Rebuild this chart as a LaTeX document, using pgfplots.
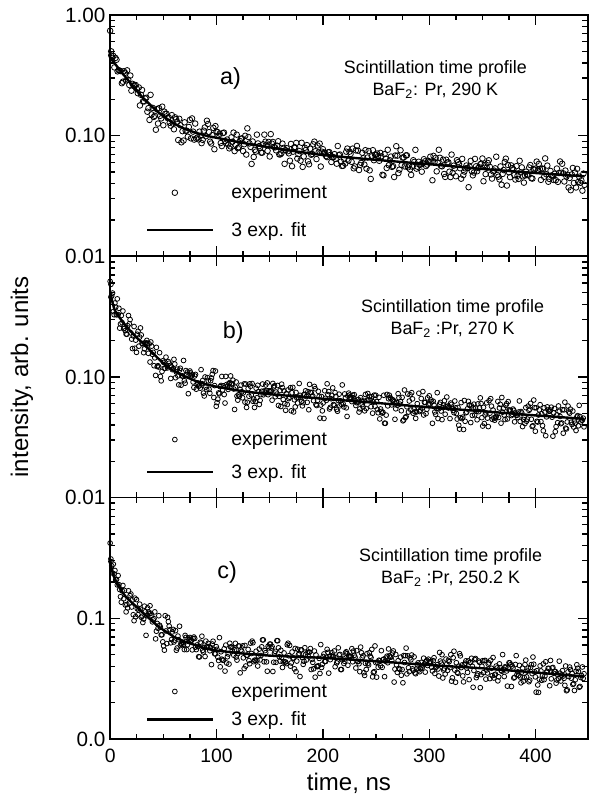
\documentclass[border=0pt]{standalone}
\usepackage{fontspec}
\setmainfont{Liberation Sans}
\usepackage{pgfplots}
\pgfplotsset{compat=1.18}
\pgfplotsset{
  mypanel/.style={
    scale only axis, width=357.75pt, height=180.75pt,
    xmin=0, xmax=449, ymin=0.01, ymax=1,
    axis line style={line width=1.3pt},
    xtick={0,100,200,300,400}, minor x tick num=3,
    ytick={0.01,0.1,1},
    tick align=inside, tick pos=both,
    major tick length=7.5pt, minor tick length=4pt,
    every tick/.style={black, line width=1pt},
    xticklabel style={font=\fontsize{14.5}{17}\selectfont, yshift=-4pt},
    yticklabel style={font=\fontsize{15.5}{18}\selectfont},
    /pgf/number format/assume math mode=true,
    legend cell align=left,
  },
  myexp/.style={only marks, mark=o, mark size=#1, mark options={line width=0.6pt, black},
    legend image code/.code={\draw[mark repeat=2,mark phase=2,##1] plot coordinates {(0pt,0pt) (20.5pt,0pt) (49pt,0pt)};}},
  myfit/.style={black, line width=1.8pt, no marks,
    legend image code/.code={\draw[##1, line width=1.6pt] (0pt,0pt) -- (49pt,0pt);}},
  myleg/.style 2 args={legend style={draw=none, fill=none, at={(axis description cs:0.067,#1)}, anchor=north west,
    font=\fontsize{14.5}{17}\selectfont, row sep=#2}},
}
\tikzset{
  mytxt/.style={font=\fontsize{13.4}{16.5}\selectfont, align=center},
  mylab/.style={font=\fontsize{17.5}{20}\selectfont},
}
\newcommand{\minorlogticks}{%
  \pgfplotsinvokeforeach{0.02,0.03,0.04,0.05,0.06,0.07,0.08,0.09,0.2,0.3,0.4,0.5,0.6,0.7,0.8,0.9}{%
    \draw[line width=1pt] (axis cs:0,##1) -- ++(4pt,0pt);
    \draw[line width=1pt] (axis cs:449,##1) -- ++(-3.5pt,0pt);
  }}
\begin{document}
\begin{tikzpicture}
\useasboundingbox (-82.5pt,-47.25pt) rectangle (359.25pt,553.5pt);
% ---------------- panel a ----------------
\begin{axis}[ymode=log, mypanel, at={(0,361.5pt)}, anchor=south west,
  xticklabels={}, yticklabels={0.01,0.10,1.00}, myleg={0.32}{12pt}]
\addplot[myexp=2.1pt] coordinates {
(0,0.74)(1,0.50)(2,0.441)(4,0.368)(6,0.426)(8,0.349)(10,0.343)(12,0.280)(14,0.332)(16,0.348)(18,0.263)(20,0.236)(22,0.261)(24,0.263)(26,0.225)(28,0.178)(30,0.239)(32,0.192)(34,0.206)(36,0.169)(38,0.218)(40,0.170)(42,0.146)(44,0.166)(46,0.169)(48,0.139)(50,0.122)(52,0.152)(54,0.140)(56,0.128)(58,0.148)(60,0.113)(62,0.137)(64,0.092)(66,0.122)(68,0.109)(70,0.129)(72,0.110)(74,0.118)(76,0.095)(78,0.108)(80,0.126)(82,0.0966)(84,0.108)(86,0.0867)(88,0.110)(90,0.099)(92,0.125)(94,0.0892)(96,0.101)(98,0.0772)(100,0.108)
(102,0.100)(104,0.0869)(106,0.105)(108,0.0903)(110,0.0929)(112,0.0785)(114,0.0969)(116,0.106)(118,0.0838)(120,0.0788)(122,0.0904)(124,0.0950)(126,0.0849)(128,0.0697)(130,0.0975)(132,0.0807)(134,0.0895)(136,0.0763)(138,0.102)(140,0.0819)(142,0.0723)(144,0.0849)(146,0.0892)(148,0.0749)(150,0.0672)(152,0.0860)(154,0.0807)(156,0.0756)(158,0.0899)(160,0.0700)(162,0.0859)(164,0.0584)(166,0.0788)(168,0.0714)(170,0.0854)(172,0.0737)(174,0.0799)(176,0.0646)(178,0.0745)(180,0.0873)(182,0.0672)(184,0.0761)(186,0.0613)(188,0.0780)(190,0.0705)(192,0.0892)(194,0.0640)(196,0.0727)(198,0.0555)(200,0.0773)
(202,0.0722)(204,0.0664)(206,0.0731)(208,0.0605)(210,0.0664)(212,0.0642)(214,0.0821)(216,0.0698)(218,0.0561)(220,0.0639)(222,0.0737)(224,0.0621)(226,0.0705)(228,0.0781)(230,0.0556)(232,0.0822)(234,0.0519)(236,0.0595)(238,0.0650)(240,0.0758)(242,0.0659)(244,0.0516)(246,0.0673)(248,0.0626)(250,0.0693)(252,0.0678)(254,0.0720)(256,0.0474)(258,0.0703)(260,0.0539)(262,0.0569)(264,0.0671)(266,0.0559)(268,0.0685)(270,0.0683)(272,0.0523)(274,0.0570)(276,0.0658)(278,0.0686)(280,0.0546)(282,0.0526)(284,0.0554)(286,0.0606)(288,0.0533)(290,0.0608)(292,0.0576)(294,0.0592)(296,0.0613)(298,0.0576)(300,0.0603)
(302,0.0607)(304,0.0680)(306,0.0654)(308,0.0595)(310,0.0656)(312,0.0557)(314,0.0481)(316,0.0632)(318,0.0601)(320,0.0454)(322,0.0491)(324,0.0534)(326,0.0626)(328,0.0580)(330,0.0440)(332,0.0471)(334,0.0535)(336,0.0539)(338,0.0553)(340,0.0508)(342,0.0495)(344,0.0557)(346,0.0539)(348,0.0580)(350,0.0647)(352,0.0571)(354,0.0543)(356,0.0625)(358,0.0477)(360,0.0506)(362,0.0536)(364,0.0472)(366,0.0434)(368,0.0392)(370,0.0519)(372,0.0645)(374,0.0572)(376,0.0453)(378,0.0538)(380,0.0471)(382,0.0559)(384,0.0438)(386,0.0496)(388,0.0460)(390,0.0468)(392,0.0471)(394,0.0545)(396,0.0444)(398,0.0526)(400,0.0534)
(402,0.0513)(404,0.0531)(406,0.0535)(408,0.0456)(410,0.0479)(412,0.0415)(414,0.0510)(416,0.0461)(418,0.0483)(420,0.0534)(422,0.0490)(424,0.0493)(426,0.0487)(428,0.0514)(430,0.0475)(432,0.0446)(434,0.0477)(436,0.0405)(438,0.0372)(440,0.0413)(442,0.0407)(444,0.0350)(446,0.0391)
(1,0.463)(3,0.458)(5,0.441)(7,0.341)(9,0.345)(11,0.272)(13,0.342)(15,0.287)(17,0.291)(19,0.315)(21,0.269)(23,0.260)(25,0.245)(27,0.251)(29,0.218)(31,0.193)(33,0.203)(35,0.158)(37,0.135)(39,0.150)(41,0.143)(43,0.112)(45,0.126)(47,0.146)(49,0.174)(51,0.158)(53,0.152)(55,0.142)(57,0.121)(59,0.126)(61,0.142)(63,0.130)(65,0.138)(67,0.0881)(69,0.0911)(71,0.110)(73,0.0980)(75,0.135)(77,0.139)(79,0.0927)(81,0.0945)(83,0.0932)(85,0.0998)(87,0.0923)(89,0.117)(91,0.133)(93,0.107)(95,0.0861)(97,0.116)(99,0.120)
(101,0.107)(103,0.104)(105,0.0820)(107,0.106)(109,0.0866)(111,0.0845)(113,0.0815)(115,0.0891)(117,0.0745)(119,0.102)(121,0.0802)(123,0.0943)(125,0.0745)(127,0.0998)(129,0.115)(131,0.0863)(133,0.0583)(135,0.0666)(137,0.0738)(139,0.0862)(141,0.0793)(143,0.0723)(145,0.102)(147,0.0840)(149,0.0887)(151,0.103)(153,0.0887)(155,0.0799)(157,0.0826)(159,0.0699)(161,0.0715)(163,0.0792)(165,0.0757)(167,0.0743)(169,0.0620)(171,0.0558)(173,0.0799)(175,0.0871)(177,0.0702)(179,0.0621)(181,0.0551)(183,0.0794)(185,0.0836)(187,0.0579)(189,0.0695)(191,0.0848)(193,0.0743)(195,0.0829)(197,0.0860)(199,0.0737)
(201,0.0725)(203,0.0677)(205,0.0728)(207,0.0691)(209,0.0661)(211,0.0703)(213,0.0586)(215,0.0689)(217,0.0609)(219,0.0563)(221,0.0587)(223,0.0782)(225,0.0737)(227,0.0607)(229,0.0536)(231,0.0755)(233,0.0751)(235,0.0572)(237,0.0722)(239,0.0576)(241,0.0533)(243,0.0746)(245,0.0438)(247,0.0758)(249,0.0697)(251,0.0711)(253,0.0619)(255,0.0674)(257,0.0469)(259,0.0645)(261,0.0764)(263,0.0625)(265,0.0551)(267,0.0454)(269,0.0818)(271,0.0490)(273,0.0757)(275,0.0660)(277,0.0556)(279,0.0687)(281,0.0568)(283,0.0473)(285,0.0626)(287,0.0763)(289,0.0553)(291,0.0574)(293,0.0503)(295,0.0638)(297,0.0560)(299,0.0619)
(301,0.0669)(303,0.0427)(305,0.0605)(307,0.0506)(309,0.0764)(311,0.0562)(313,0.0633)(315,0.0455)(317,0.0600)(319,0.0503)(321,0.0697)(323,0.0564)(325,0.0461)(327,0.0603)(329,0.0537)(331,0.0642)(333,0.0504)(335,0.0566)(337,0.0374)(339,0.0618)(341,0.0469)(343,0.0642)(345,0.0507)(347,0.0547)(349,0.0586)(351,0.0419)(353,0.0480)(355,0.0594)(357,0.0551)(359,0.0441)(361,0.0514)(363,0.0669)(365,0.0457)(367,0.0556)(369,0.0482)(371,0.0606)(373,0.0386)(375,0.0497)(377,0.0567)(379,0.0527)(381,0.0433)(383,0.0465)(385,0.0619)(387,0.0546)(389,0.0408)(391,0.0503)(393,0.0477)(395,0.0571)(397,0.0441)(399,0.0523)
(401,0.0610)(403,0.0583)(405,0.0430)(407,0.0529)(409,0.0648)(411,0.0565)(413,0.0438)(415,0.0468)(417,0.0429)(419,0.0428)(421,0.0414)(423,0.0611)(425,0.0585)(427,0.0417)(429,0.0459)(431,0.0372)(433,0.0353)(435,0.0540)(437,0.0496)(439,0.0531)(441,0.0457)(443,0.0426)(445,0.0485)
};
\addlegendentry{\hspace{11pt}experiment}
\addplot[myfit] coordinates {
(0,0.45)(2,0.42)(4,0.40)(6,0.38)(8,0.36)(10,0.34)(14,0.31)(18,0.28)(22,0.253)(26,0.23)(30,0.21)(35,0.19)(40,0.172)(45,0.157)(50,0.145)(55,0.135)(60,0.126)(70,0.114)(80,0.106)(90,0.1)(100,0.096)(125,0.087)(150,0.08)(175,0.074)(200,0.069)(250,0.063)(300,0.058)(350,0.053)(400,0.049)(446,0.046)
};
\addlegendentry{\hspace{11pt}3 exp. fit}
\minorlogticks
\node[mylab] at (rel axis cs:0.252,0.739) {a)};
\node[mytxt] at (rel axis cs:0.681,0.734) {Scintillation time profile\\BaF\textsubscript{2}: Pr, 290 K};
\end{axis}
% ---------------- panel b ----------------
\begin{axis}[ymode=log, mypanel, at={(0,180.75pt)}, anchor=south west,
  xticklabels={}, yticklabels={0.01,0.10,{}}, myleg={0.297}{8.5pt},
  ylabel={intensity, arb. units},
  ylabel style={font=\fontsize{18}{21}\selectfont, at={(axis description cs:-0.1845,0.5)}, anchor=center}]
\addplot[myexp=1.8pt] coordinates {
(0,0.62)(0.7,0.46)(1.5,0.469)(3,0.349)(4.5,0.410)(6,0.327)(7.5,0.329)(9,0.254)(10.5,0.323)(12,0.352)(13.5,0.254)(15,0.227)(16.5,0.266)(18,0.276)(19.5,0.232)(21,0.172)(22.5,0.262)(24,0.202)(25.5,0.226)(27,0.180)(28.5,0.255)(30,0.190)(31.5,0.159)(33,0.193)(34.5,0.201)(36,0.157)(37.5,0.133)(39,0.180)(40.5,0.160)(42,0.144)(43.5,0.176)(45,0.124)(46.5,0.159)(48,0.0929)(49.5,0.136)(51,0.118)(52.5,0.146)(54,0.119)(55.5,0.130)(57,0.0972)(58.5,0.115)(60,0.140)(61.5,0.0986)(63,0.116)(64.5,0.0861)(66,0.118)(67.5,0.102)(69,0.137)(70.5,0.0888)(72,0.105)(73.5,0.0727)(75,0.112)
(76.5,0.102)(78,0.0909)(79.5,0.102)(81,0.0792)(82.5,0.0891)(84,0.0847)(85.5,0.115)(87,0.0934)(88.5,0.0696)(90,0.0825)(91.5,0.0988)(93,0.0791)(94.5,0.0930)(96,0.105)(97.5,0.0676)(99,0.112)(100.5,0.0613)(102,0.0738)(103.5,0.0831)(105,0.101)(106.5,0.0844)(108,0.0608)(109.5,0.0866)(111,0.0789)(112.5,0.0898)(114,0.0873)(115.5,0.0940)(117,0.0538)(118.5,0.0909)(120,0.0643)(121.5,0.0690)(123,0.0856)(124.5,0.0672)(126,0.0876)(127.5,0.0874)(129,0.0617)(130.5,0.0692)(132,0.0837)(133.5,0.0882)(135,0.0657)(136.5,0.0626)(138,0.0672)(139.5,0.0756)(141,0.0639)(142.5,0.0761)(144,0.0711)(145.5,0.0736)(147,0.0772)(148.5,0.0713)(150,0.0757)
(151.5,0.0765)(153,0.0884)(154.5,0.0845)(156,0.0750)(157.5,0.0850)(159,0.0691)(160.5,0.0569)(162,0.0816)(163.5,0.0768)(165,0.0529)(166.5,0.0591)(168,0.0662)(169.5,0.0815)(171,0.0740)(172.5,0.0513)(174,0.0565)(175.5,0.0671)(177,0.0679)(178.5,0.0704)(180,0.0631)(181.5,0.0611)(183,0.0715)(184.5,0.0688)(186,0.0756)(187.5,0.0868)(189,0.0743)(190.5,0.0697)(192,0.0835)(193.5,0.0590)(195,0.0640)(196.5,0.0690)(198,0.0585)(199.5,0.0524)(201,0.0453)(202.5,0.0666)(204,0.0878)(205.5,0.0757)(207,0.0560)(208.5,0.0703)(210,0.0591)(211.5,0.0742)(213,0.0538)(214.5,0.0638)(216,0.0577)(217.5,0.0593)(219,0.0599)(220.5,0.0723)(222,0.0555)(223.5,0.0695)(225,0.0709)
(226.5,0.0675)(228,0.0706)(229.5,0.0713)(231,0.0580)(232.5,0.0620)(234,0.0512)(235.5,0.0674)(237,0.0591)(238.5,0.0630)(240,0.0717)(241.5,0.0643)(243,0.0649)(244.5,0.0640)(246,0.0686)(247.5,0.0621)(249,0.0571)(250.5,0.0625)(252,0.0505)(253.5,0.0449)(255,0.0518)(256.5,0.0509)(258,0.0414)(259.5,0.0483)(261,0.0576)(262.5,0.0706)(264,0.0658)(265.5,0.0649)(267,0.0624)(268.5,0.0545)(270,0.0582)(271.5,0.0673)(273,0.0625)(274.5,0.0677)(276,0.0440)(277.5,0.0461)(279,0.0566)(280.5,0.0512)(282,0.0713)(283.5,0.0741)(285,0.0500)(286.5,0.0514)(288,0.0513)(289.5,0.0556)(291,0.0517)(292.5,0.0663)(294,0.0757)(295.5,0.0616)(297,0.0497)(298.5,0.0671)(300,0.0698)
(301.5,0.0646)(303,0.0413)(304.5,0.0585)(306,0.0490)(307.5,0.0741)(309,0.0546)(310.5,0.0616)(312,0.0443)(313.5,0.0585)(315,0.0491)(316.5,0.0682)(318,0.0553)(319.5,0.0452)(321,0.0593)(322.5,0.0528)(324,0.0632)(325.5,0.0498)(327,0.0559)(328.5,0.0370)(330,0.0613)(331.5,0.0465)(333,0.0638)(334.5,0.0505)(336,0.0545)(337.5,0.0585)(339,0.0419)(340.5,0.0480)(342,0.0595)(343.5,0.0553)(345,0.0442)(346.5,0.0516)(348,0.0671)(349.5,0.0460)(351,0.0560)(352.5,0.0484)(354,0.0611)(355.5,0.0388)(357,0.0501)(358.5,0.0573)(360,0.0532)(361.5,0.0438)(363,0.0470)(364.5,0.0627)(366,0.0553)(367.5,0.0414)(369,0.0511)(370.5,0.0484)(372,0.0581)(373.5,0.0449)(375,0.0533)
(376.5,0.0525)(378,0.0491)(379.5,0.0529)(381,0.0502)(382.5,0.0481)(384,0.0512)(385.5,0.0428)(387,0.0503)(388.5,0.0445)(390,0.0412)(391.5,0.0430)(393,0.0574)(394.5,0.0541)(396,0.0446)(397.5,0.0394)(399,0.0556)(400.5,0.0555)(402,0.0423)(403.5,0.0534)(405,0.0427)(406.5,0.0395)(408,0.0555)(409.5,0.0326)(411,0.0565)(412.5,0.0521)(414,0.0532)(415.5,0.0464)(417,0.0505)(418.5,0.0352)(420,0.0485)(421.5,0.0575)(423,0.0471)(424.5,0.0416)(426,0.0342)(427.5,0.0618)(429,0.0371)(430.5,0.0574)(432,0.0501)(433.5,0.0422)(435,0.0522)(436.5,0.0432)(438,0.0360)(439.5,0.0478)(441,0.0582)(442.5,0.0423)(444,0.0439)(445.5,0.0386)
(0.75,0.586)(2.25,0.496)(3.75,0.328)(5.25,0.379)(6.75,0.444)(8.25,0.371)(9.75,0.275)(11.25,0.282)(12.75,0.251)(14.25,0.242)(15.75,0.226)(17.25,0.323)(18.75,0.299)(20.25,0.206)(21.75,0.219)(23.25,0.173)(24.75,0.160)(26.25,0.239)(27.75,0.214)(29.25,0.223)(30.75,0.188)(32.25,0.171)(33.75,0.189)(35.25,0.191)(36.75,0.188)(38.25,0.195)(39.75,0.154)(41.25,0.124)(42.75,0.103)(44.25,0.122)(45.75,0.121)(47.25,0.101)(48.75,0.111)(50.25,0.132)(51.75,0.118)(53.25,0.125)(54.75,0.134)(56.25,0.123)(57.75,0.121)(59.25,0.117)(60.75,0.128)(62.25,0.110)(63.75,0.102)(65.25,0.114)(66.75,0.0855)(68.25,0.102)(69.75,0.0931)(71.25,0.113)(72.75,0.110)(74.25,0.104)
(75.75,0.108)(77.25,0.104)(78.75,0.0818)(80.25,0.105)(81.75,0.0860)(83.25,0.0840)(84.75,0.0808)(86.25,0.0881)(87.75,0.0735)(89.25,0.100)(90.75,0.0788)(92.25,0.0928)(93.75,0.0733)(95.25,0.0981)(96.75,0.113)(98.25,0.0848)(99.75,0.0572)(101.25,0.0655)(102.75,0.0726)(104.25,0.0850)(105.75,0.0782)(107.25,0.0715)(108.75,0.101)(110.25,0.0832)(111.75,0.0880)(113.25,0.102)(114.75,0.0881)(116.25,0.0795)(117.75,0.0821)(119.25,0.0695)(120.75,0.0712)(122.25,0.0788)(123.75,0.0754)(125.25,0.0740)(126.75,0.0619)(128.25,0.0559)(129.75,0.0801)(131.25,0.0877)(132.75,0.0709)(134.25,0.0629)(135.75,0.0559)(137.25,0.0807)(138.75,0.0853)(140.25,0.0592)(141.75,0.0714)(143.25,0.0874)(144.75,0.0766)(146.25,0.0858)(147.75,0.0893)(149.25,0.0768)
(150.75,0.0766)(152.25,0.0642)(153.75,0.0828)(155.25,0.0686)(156.75,0.0721)(158.25,0.0581)(159.75,0.0772)(161.25,0.0872)(162.75,0.0650)(164.25,0.0602)(165.75,0.0728)(167.25,0.0781)(168.75,0.0680)(170.25,0.0524)(171.75,0.0820)(173.25,0.0647)(174.75,0.0744)(176.25,0.0608)(177.75,0.0883)(179.25,0.0676)(180.75,0.0576)(182.25,0.0716)(183.75,0.0768)(185.25,0.0616)(186.75,0.0535)(188.25,0.0744)(189.75,0.0689)(191.25,0.0636)(192.75,0.0799)(194.25,0.0580)(195.75,0.0760)(197.25,0.0456)(198.75,0.0688)(200.25,0.0609)(201.75,0.0769)(203.25,0.0640)(204.75,0.0715)(206.25,0.0543)(207.75,0.0660)(209.25,0.0812)(210.75,0.0582)(212.25,0.0690)(213.75,0.0520)(215.25,0.0720)(216.75,0.0635)(218.25,0.0859)(219.75,0.0565)(221.25,0.0672)(222.75,0.0471)(224.25,0.0735)
(225.75,0.0667)(227.25,0.0625)(228.75,0.0672)(230.25,0.0638)(231.75,0.0612)(233.25,0.0651)(234.75,0.0544)(236.25,0.0640)(237.75,0.0565)(239.25,0.0524)(240.75,0.0547)(242.25,0.0730)(243.75,0.0688)(245.25,0.0567)(246.75,0.0501)(248.25,0.0707)(249.75,0.0705)(251.25,0.0538)(252.75,0.0678)(254.25,0.0543)(255.75,0.0502)(257.25,0.0705)(258.75,0.0413)(260.25,0.0717)(261.75,0.0660)(263.25,0.0675)(264.75,0.0587)(266.25,0.0640)(267.75,0.0446)(269.25,0.0614)(270.75,0.0727)(272.25,0.0596)(273.75,0.0525)(275.25,0.0433)(276.75,0.0780)(278.25,0.0469)(279.75,0.0723)(281.25,0.0632)(282.75,0.0532)(284.25,0.0658)(285.75,0.0544)(287.25,0.0454)(288.75,0.0601)(290.25,0.0733)(291.75,0.0531)(293.25,0.0552)(294.75,0.0484)(296.25,0.0615)(297.75,0.0540)(299.25,0.0597)
(300.75,0.0595)(302.25,0.0623)(303.75,0.0629)(305.25,0.0513)(306.75,0.0548)(308.25,0.0452)(309.75,0.0595)(311.25,0.0522)(312.75,0.0557)(314.25,0.0635)(315.75,0.0568)(317.25,0.0574)(318.75,0.0566)(320.25,0.0608)(321.75,0.0550)(323.25,0.0506)(324.75,0.0554)(326.25,0.0448)(327.75,0.0398)(329.25,0.0460)(330.75,0.0452)(332.25,0.0367)(333.75,0.0429)(335.25,0.0511)(336.75,0.0628)(338.25,0.0584)(339.75,0.0576)(341.25,0.0554)(342.75,0.0485)(344.25,0.0518)(345.75,0.0598)(347.25,0.0556)(348.75,0.0602)(350.25,0.0392)(351.75,0.0411)(353.25,0.0504)(354.75,0.0456)(356.25,0.0636)(357.75,0.0661)(359.25,0.0446)(360.75,0.0458)(362.25,0.0457)(363.75,0.0496)(365.25,0.0462)(366.75,0.0593)(368.25,0.0676)(369.75,0.0550)(371.25,0.0444)(372.75,0.0600)(374.25,0.0625)
(375.75,0.0531)(377.25,0.0479)(378.75,0.0542)(380.25,0.0425)(381.75,0.0482)(383.25,0.0461)(384.75,0.0633)(386.25,0.0517)(387.75,0.0388)(389.25,0.0464)(390.75,0.0557)(392.25,0.0448)(393.75,0.0529)(395.25,0.0604)(396.75,0.0389)(398.25,0.0644)(399.75,0.0355)(401.25,0.0429)(402.75,0.0484)(404.25,0.0589)(405.75,0.0495)(407.25,0.0358)(408.75,0.0511)(410.25,0.0467)(411.75,0.0533)(413.25,0.0520)(414.75,0.0562)(416.25,0.0323)(417.75,0.0547)(419.25,0.0388)(420.75,0.0418)(422.25,0.0519)(423.75,0.0410)(425.25,0.0535)(426.75,0.0534)(428.25,0.0377)(429.75,0.0424)(431.25,0.0513)(432.75,0.0541)(434.25,0.0404)(435.75,0.0385)(437.25,0.0414)(438.75,0.0466)(440.25,0.0394)(441.75,0.0470)(443.25,0.0439)(444.75,0.0456)
};
\addlegendentry{\hspace{11pt}experiment}
\addplot[myfit] coordinates {
(0,0.50)(1.5,0.44)(3,0.39)(4.5,0.355)(6,0.34)(9,0.31)(12,0.285)(15,0.265)(20,0.235)(25,0.212)(30,0.193)(35,0.175)(40,0.158)(45,0.143)(50,0.130)(55,0.120)(60,0.112)(70,0.101)(80,0.093)(90,0.087)(100,0.083)(125,0.076)(150,0.072)(175,0.069)(200,0.066)(250,0.061)(300,0.056)(350,0.052)(400,0.048)(445.5,0.045)
};
\addlegendentry{\hspace{11pt}3 exp. fit}
\minorlogticks
\node[mylab] at (rel axis cs:0.258,0.685) {b)};
\node[mytxt] at (rel axis cs:0.717,0.741) {Scintillation time profile\\BaF\textsubscript{2} :Pr, 270 K};
\end{axis}
% ---------------- panel c ----------------
\begin{axis}[ymode=log, mypanel, at={(0,0pt)}, anchor=south west,
  xticklabels={0,100,200,300,400}, yticklabels={0.0,0.1,{}}, myleg={0.253}{5pt},
  xlabel={time, ns},
  xlabel style={font=\fontsize{18}{21}\selectfont, at={(axis description cs:0.5,0)}, anchor=center, yshift=-33pt}]
\addplot[myexp=1.8pt] coordinates {
(0,0.42)(0.7,0.31)(1.5,0.272)(3,0.281)(4.5,0.249)(6,0.210)(7.5,0.226)(9,0.173)(10.5,0.136)(12,0.187)(13.5,0.170)(15,0.113)(16.5,0.122)(18,0.134)(19.5,0.159)(21,0.142)(22.5,0.0955)(24,0.103)(25.5,0.120)(27,0.117)(28.5,0.119)(30,0.104)(31.5,0.0986)(33,0.113)(34.5,0.105)(36,0.113)(37.5,0.127)(39,0.106)(40.5,0.0968)(42,0.113)(43.5,0.0781)(45,0.0826)(46.5,0.0875)(48,0.0728)(49.5,0.0638)(51,0.0544)(52.5,0.0785)(54,0.102)(55.5,0.0861)(57,0.0626)(58.5,0.0771)(60,0.0636)(61.5,0.0790)(63,0.0567)(64.5,0.0664)(66,0.0595)(67.5,0.0604)(69,0.0604)(70.5,0.0721)(72,0.0550)(73.5,0.0683)(75,0.0693)
(76.5,0.0654)(78,0.0679)(79.5,0.0680)(81,0.0550)(82.5,0.0582)(84,0.0478)(85.5,0.0623)(87,0.0542)(88.5,0.0573)(90,0.0647)(91.5,0.0579)(93,0.0583)(94.5,0.0572)(96,0.0612)(97.5,0.0552)(99,0.0507)(100.5,0.0553)(102,0.0447)(103.5,0.0396)(105,0.0458)(106.5,0.0449)(108,0.0365)(109.5,0.0426)(111,0.0506)(112.5,0.0621)(114,0.0578)(115.5,0.0569)(117,0.0547)(118.5,0.0477)(120,0.0509)(121.5,0.0588)(123,0.0546)(124.5,0.0590)(126,0.0383)(127.5,0.0402)(129,0.0494)(130.5,0.0446)(132,0.0622)(133.5,0.0647)(135,0.0437)(136.5,0.0449)(138,0.0448)(139.5,0.0485)(141,0.0452)(142.5,0.0580)(144,0.0662)(145.5,0.0539)(147,0.0435)(148.5,0.0587)(150,0.0611)
(151.5,0.0566)(153,0.0362)(154.5,0.0514)(156,0.0431)(157.5,0.0652)(159,0.0480)(160.5,0.0543)(162,0.0391)(163.5,0.0516)(165,0.0434)(166.5,0.0603)(168,0.0489)(169.5,0.0401)(171,0.0525)(172.5,0.0468)(174,0.0562)(175.5,0.0442)(177,0.0498)(178.5,0.0329)(180,0.0546)(181.5,0.0415)(183,0.0570)(184.5,0.0451)(186,0.0488)(187.5,0.0524)(189,0.0376)(190.5,0.0431)(192,0.0535)(193.5,0.0497)(195,0.0398)(196.5,0.0465)(198,0.0605)(199.5,0.0415)(201,0.0506)(202.5,0.0438)(204,0.0553)(205.5,0.0351)(207,0.0454)(208.5,0.0519)(210,0.0482)(211.5,0.0397)(213,0.0426)(214.5,0.0569)(216,0.0502)(217.5,0.0376)(219,0.0465)(220.5,0.0440)(222,0.0528)(223.5,0.0408)(225,0.0485)
(226.5,0.0484)(228,0.0436)(229.5,0.0493)(231,0.0387)(232.5,0.0439)(234,0.0420)(235.5,0.0577)(237,0.0471)(238.5,0.0354)(240,0.0423)(241.5,0.0509)(243,0.0410)(244.5,0.0484)(246,0.0552)(247.5,0.0355)(249,0.0590)(250.5,0.0325)(252,0.0393)(253.5,0.0444)(255,0.0539)(256.5,0.0453)(258,0.0328)(259.5,0.0468)(261,0.0428)(262.5,0.0489)(264,0.0476)(265.5,0.0515)(267,0.0296)(268.5,0.0501)(270,0.0356)(271.5,0.0383)(273,0.0476)(274.5,0.0376)(276,0.0491)(277.5,0.0490)(279,0.0346)(280.5,0.0389)(282,0.0470)(283.5,0.0496)(285,0.0370)(286.5,0.0353)(288,0.0379)(289.5,0.0427)(291,0.0361)(292.5,0.0431)(294,0.0403)(295.5,0.0418)(297,0.0439)(298.5,0.0406)(300,0.0431)
(301.5,0.0436)(303,0.0366)(304.5,0.0471)(306,0.0391)(307.5,0.0412)(309,0.0332)(310.5,0.0442)(312,0.0499)(313.5,0.0372)(315,0.0345)(316.5,0.0417)(318,0.0448)(319.5,0.0390)(321,0.0301)(322.5,0.0471)(324,0.0372)(325.5,0.0428)(327,0.0350)(328.5,0.0509)(330,0.0390)(331.5,0.0333)(333,0.0414)(334.5,0.0444)(336,0.0356)(337.5,0.0310)(339,0.0431)(340.5,0.0400)(342,0.0369)(343.5,0.0464)(345,0.0337)(346.5,0.0442)(348,0.0266)(349.5,0.0400)(351,0.0354)(352.5,0.0448)(354,0.0373)(355.5,0.0416)(357,0.0316)(358.5,0.0385)(360,0.0473)(361.5,0.0339)(363,0.0402)(364.5,0.0303)(366,0.0419)(367.5,0.0370)(369,0.0500)(370.5,0.0329)(372,0.0391)(373.5,0.0274)(375,0.0428)
(376.5,0.0412)(378,0.0402)(379.5,0.0320)(381,0.0414)(382.5,0.0342)(384,0.0336)(385.5,0.0326)(387,0.0358)(388.5,0.0301)(390,0.0413)(391.5,0.0327)(393,0.0387)(394.5,0.0307)(396,0.0413)(397.5,0.0477)(399,0.0360)(400.5,0.0244)(402,0.0280)(403.5,0.0312)(405,0.0366)(406.5,0.0338)(408,0.0310)(409.5,0.0436)(411,0.0363)(412.5,0.0384)(414,0.0447)(415.5,0.0387)(417,0.0350)(418.5,0.0363)(420,0.0308)(421.5,0.0316)(423,0.0351)(424.5,0.0337)(426,0.0332)(427.5,0.0278)(429,0.0251)(430.5,0.0360)(432,0.0394)(433.5,0.0319)(435,0.0283)(436.5,0.0252)(438,0.0364)(439.5,0.0385)(441,0.0268)(442.5,0.0323)(444,0.0395)(445.5,0.0347)
(0.75,0.295)(2.25,0.237)(3.75,0.233)(5.25,0.208)(6.75,0.189)(8.25,0.190)(9.75,0.151)(11.25,0.169)(12.75,0.145)(14.25,0.129)(15.75,0.130)(17.25,0.169)(18.75,0.154)(20.25,0.124)(21.75,0.107)(23.25,0.147)(24.75,0.143)(26.25,0.107)(27.75,0.131)(29.25,0.102)(30.75,0.0922)(32.25,0.126)(33.75,0.0722)(35.25,0.122)(36.75,0.110)(38.25,0.110)(39.75,0.0934)(41.25,0.0992)(42.75,0.0675)(44.25,0.0906)(45.75,0.105)(47.25,0.0844)(48.75,0.0730)(50.25,0.0591)(51.75,0.105)(53.25,0.0617)(54.75,0.0938)(56.25,0.0804)(57.75,0.0666)(59.25,0.0808)(60.75,0.0659)(62.25,0.0543)(63.75,0.0712)(65.25,0.0859)(66.75,0.0616)(68.25,0.0633)(69.75,0.0550)(71.25,0.0693)(72.75,0.0604)(74.25,0.0663)
(75.75,0.0657)(77.25,0.0547)(78.75,0.0699)(80.25,0.0576)(81.75,0.0601)(83.25,0.0480)(84.75,0.0634)(86.25,0.0710)(87.75,0.0525)(89.25,0.0482)(90.75,0.0580)(92.25,0.0620)(93.75,0.0538)(95.25,0.0413)(96.75,0.0645)(98.25,0.0508)(99.75,0.0582)(101.25,0.0476)(102.75,0.0691)(104.25,0.0528)(105.75,0.0450)(107.25,0.0559)(108.75,0.0599)(110.25,0.0480)(111.75,0.0417)(113.25,0.0578)(114.75,0.0536)(116.25,0.0494)(117.75,0.0620)(119.25,0.0450)(120.75,0.0589)(122.25,0.0353)(123.75,0.0532)(125.25,0.0470)(126.75,0.0595)(128.25,0.0494)(129.75,0.0552)(131.25,0.0420)(132.75,0.0511)(134.25,0.0627)(135.75,0.0449)(137.25,0.0533)(138.75,0.0402)(140.25,0.0556)(141.75,0.0491)(143.25,0.0662)(144.75,0.0436)(146.25,0.0519)(147.75,0.0364)(149.25,0.0568)
(150.75,0.0611)(152.25,0.0584)(153.75,0.0432)(155.25,0.0532)(156.75,0.0652)(158.25,0.0569)(159.75,0.0442)(161.25,0.0473)(162.75,0.0435)(164.25,0.0434)(165.75,0.0421)(167.25,0.0621)(168.75,0.0596)(170.25,0.0426)(171.75,0.0468)(173.25,0.0381)(174.75,0.0361)(176.25,0.0554)(177.75,0.0510)(179.25,0.0546)(180.75,0.0472)(182.25,0.0440)(183.75,0.0501)(185.25,0.0519)(186.75,0.0524)(188.25,0.0561)(189.75,0.0456)(191.25,0.0381)(192.75,0.0325)(194.25,0.0398)(195.75,0.0404)(197.25,0.0349)(198.75,0.0391)(200.25,0.0482)(201.75,0.0439)(203.25,0.0474)(204.75,0.0522)(206.25,0.0484)(207.75,0.0489)(209.25,0.0482)(210.75,0.0536)(212.25,0.0469)(213.75,0.0438)(215.25,0.0497)(216.75,0.0376)(218.25,0.0453)(219.75,0.0422)(221.25,0.0516)(222.75,0.0509)(224.25,0.0485)
(225.75,0.0485)(227.25,0.0560)(228.75,0.0535)(230.25,0.0476)(231.75,0.0539)(233.25,0.0438)(234.75,0.0361)(236.25,0.0518)(237.75,0.0488)(239.25,0.0336)(240.75,0.0376)(242.25,0.0422)(243.75,0.0519)(245.25,0.0472)(246.75,0.0327)(248.25,0.0361)(249.75,0.0429)(251.25,0.0433)(252.75,0.0449)(254.25,0.0403)(255.75,0.0392)(257.25,0.0459)(258.75,0.0441)(260.25,0.0485)(261.75,0.0557)(263.25,0.0477)(264.75,0.0448)(266.25,0.0536)(267.75,0.0379)(269.25,0.0411)(270.75,0.0445)(272.25,0.0377)(273.75,0.0337)(275.25,0.0292)(276.75,0.0430)(278.25,0.0566)(279.75,0.0488)(281.25,0.0361)(282.75,0.0453)(284.25,0.0381)(285.75,0.0479)(287.25,0.0347)(288.75,0.0412)(290.25,0.0373)(291.75,0.0383)(293.25,0.0387)(294.75,0.0467)(296.25,0.0358)(297.75,0.0448)(299.25,0.0458)
(300.75,0.0437)(302.25,0.0393)(303.75,0.0445)(305.25,0.0349)(306.75,0.0396)(308.25,0.0380)(309.75,0.0521)(311.25,0.0425)(312.75,0.0320)(314.25,0.0382)(315.75,0.0459)(317.25,0.0370)(318.75,0.0437)(320.25,0.0499)(321.75,0.0321)(323.25,0.0533)(324.75,0.0295)(326.25,0.0356)(327.75,0.0401)(329.25,0.0488)(330.75,0.0410)(332.25,0.0297)(333.75,0.0424)(335.25,0.0387)(336.75,0.0443)(338.25,0.0432)(339.75,0.0466)(341.25,0.0268)(342.75,0.0455)(344.25,0.0322)(345.75,0.0347)(347.25,0.0431)(348.75,0.0341)(350.25,0.0445)(351.75,0.0444)(353.25,0.0313)(354.75,0.0352)(356.25,0.0426)(357.75,0.0449)(359.25,0.0335)(360.75,0.0320)(362.25,0.0344)(363.75,0.0387)(365.25,0.0327)(366.75,0.0390)(368.25,0.0364)(369.75,0.0378)(371.25,0.0396)(372.75,0.0366)(374.25,0.0389)
(375.75,0.0427)(377.25,0.0272)(378.75,0.0386)(380.25,0.0324)(381.75,0.0490)(383.25,0.0360)(384.75,0.0407)(386.25,0.0292)(387.75,0.0386)(389.25,0.0323)(390.75,0.0450)(392.25,0.0365)(393.75,0.0298)(395.25,0.0391)(396.75,0.0348)(398.25,0.0416)(399.75,0.0327)(401.25,0.0368)(402.75,0.0243)(404.25,0.0403)(405.75,0.0306)(407.25,0.0419)(408.75,0.0332)(410.25,0.0358)(411.75,0.0385)(413.25,0.0276)(414.75,0.0315)(416.25,0.0391)(417.75,0.0363)(419.25,0.0290)(420.75,0.0340)(422.25,0.0441)(423.75,0.0302)(425.25,0.0368)(426.75,0.0318)(428.25,0.0402)(429.75,0.0255)(431.25,0.0329)(432.75,0.0376)(434.25,0.0349)(435.75,0.0287)(437.25,0.0309)(438.75,0.0412)(440.25,0.0363)(441.75,0.0272)(443.25,0.0335)(444.75,0.0317)
};
\addlegendentry{\hspace{11pt}experiment}
\addplot[myfit] coordinates {
(0,0.30)(1.5,0.255)(3,0.228)(4.5,0.211)(6,0.2)(9,0.178)(12,0.162)(15,0.15)(20,0.136)(25,0.124)(30,0.113)(35,0.103)(40,0.094)(45,0.086)(50,0.08)(55,0.075)(60,0.07)(70,0.064)(80,0.06)(90,0.056)(100,0.054)(125,0.051)(150,0.049)(200,0.047)(250,0.044)(300,0.041)(350,0.0385)(400,0.0355)(445.5,0.033)
};
\addlegendentry{\hspace{11pt}3 exp. fit}
\minorlogticks
\node[mylab] at (rel axis cs:0.245,0.689) {c)};
\node[mytxt] at (rel axis cs:0.713,0.712) {Scintillation time profile\\BaF\textsubscript{2} :Pr, 250.2 K};
\end{axis}
\end{tikzpicture}
\end{document}
